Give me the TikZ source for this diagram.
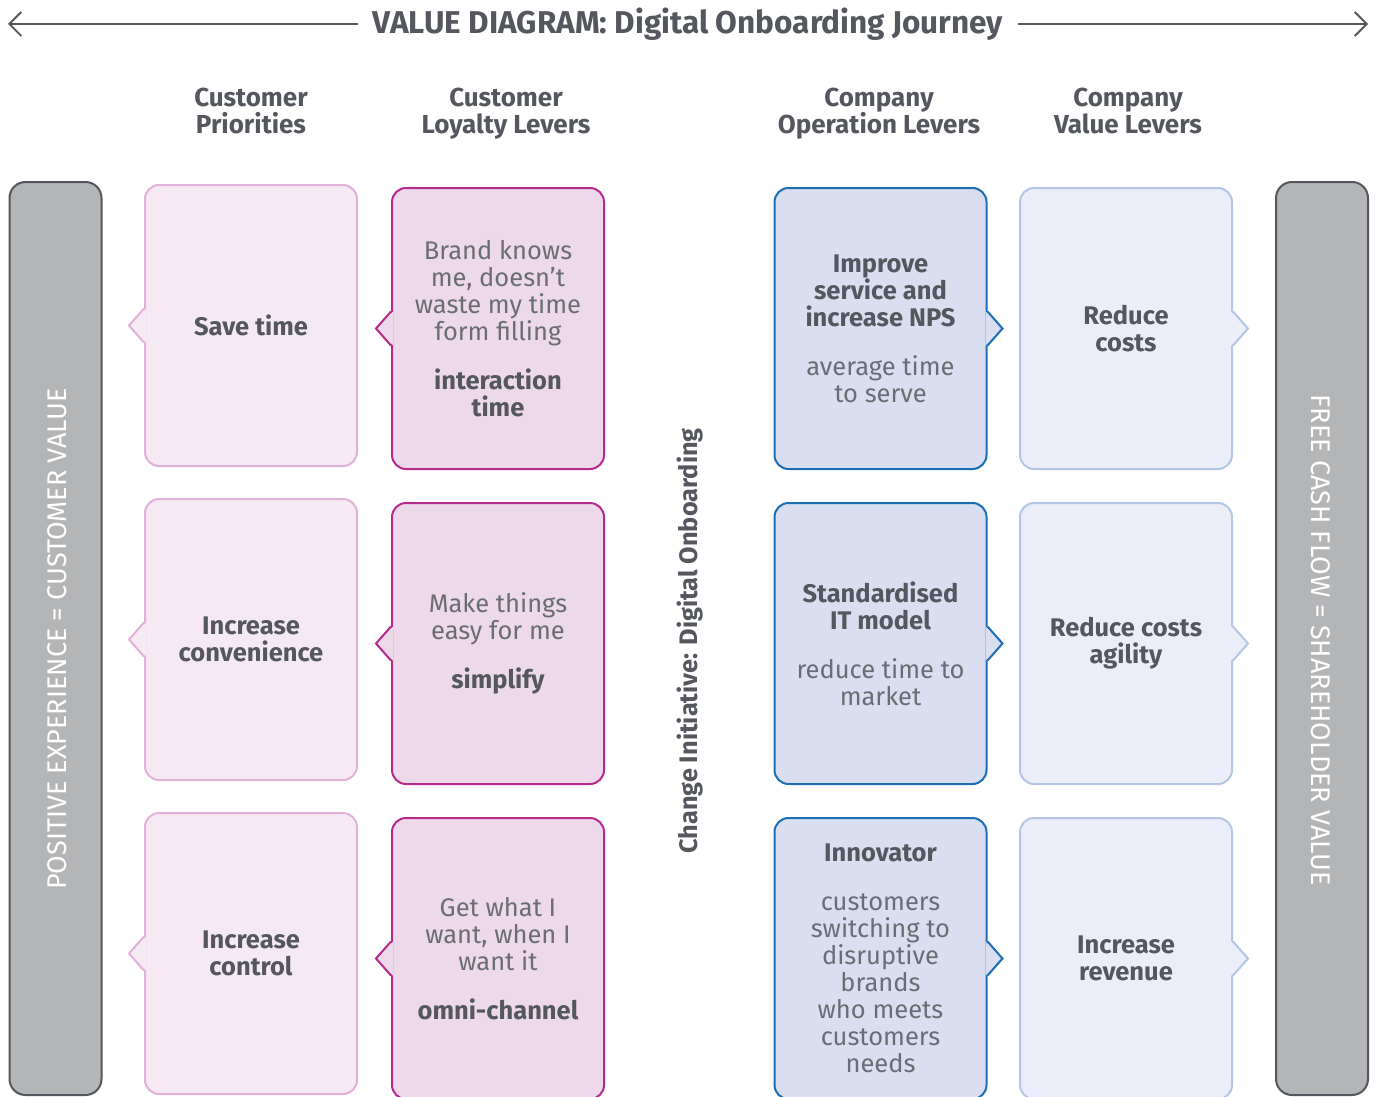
\documentclass[tikz,border=0pt]{standalone}
\usepackage{fontspec}
\setmainfont{Fira Sans}
\usetikzlibrary{arrows.meta}
\definecolor{txt}{HTML}{54575E}
\definecolor{txtl}{HTML}{6A6D73}
\definecolor{fA}{HTML}{F5EAF4}
\definecolor{sA}{HTML}{E2B1D9}
\definecolor{fB}{HTML}{EED9EB}
\definecolor{sB}{HTML}{B62A8B}
\definecolor{fC}{HTML}{D9DFF1}
\definecolor{sC}{HTML}{1C6DB4}
\definecolor{fD}{HTML}{EBEEF9}
\definecolor{sD}{HTML}{B4C6E6}
\definecolor{barF}{HTML}{B4B5B7}
\definecolor{barS}{HTML}{54575E}
\newcommand{\B}[1]{{\bfseries\color{txt}#1}}
\newcommand{\ptrL}[3]{%
  \fill[#2] ([xshift=2pt,yshift=17pt]#1.west) -- ([xshift=-15pt]#1.west) -- ([xshift=2pt,yshift=-17pt]#1.west) -- cycle;
  \draw[#3,line width=2pt,line join=miter] ([yshift=17pt]#1.west) -- ([xshift=-15pt]#1.west) -- ([yshift=-17pt]#1.west);}
\newcommand{\ptrR}[3]{%
  \fill[#2] ([xshift=-2pt,yshift=17pt]#1.east) -- ([xshift=15pt]#1.east) -- ([xshift=-2pt,yshift=-17pt]#1.east) -- cycle;
  \draw[#3,line width=2pt,line join=miter] ([yshift=17pt]#1.east) -- ([xshift=15pt]#1.east) -- ([yshift=-17pt]#1.east);}
\begin{document}
\begin{tikzpicture}[x=1pt,y=-1pt,
  bx/.style={rounded corners=14pt, line width=2pt, minimum width=212pt, minimum height=281pt,
    align=center, inner sep=0pt, text=txtl, font=\fontsize{25.5}{27}\selectfont},
  bA/.style={bx, draw=sA, fill=fA},
  bB/.style={bx, draw=sB, fill=fB},
  bC/.style={bx, draw=sC, fill=fC},
  bD/.style={bx, draw=sD, fill=fD},
  hd/.style={font=\fontsize{26}{27}\selectfont\bfseries, align=center, text=txt, anchor=north, inner sep=0pt},
  bar/.style={draw=barS, fill=barF, line width=2pt, rounded corners=16pt,
    minimum width=92pt, minimum height=913pt, inner sep=0pt},
  bartext/.style={text=white, font=\fontsize{27}{29}\selectfont},
  arr/.style={draw=txt, line width=1.8pt, -{Straight Barb[length=12pt,width=24pt,line width=1.8pt]}},
]
\useasboundingbox (0,0) rectangle (1381,1097);
\fill[white] (0,0) rectangle (1381,1097);

% title and arrows
\node[font=\fontsize{31.5}{34}\selectfont\bfseries, text=txt, inner xsep=15pt] (title) at (688,24) {VALUE DIAGRAM: Digital Onboarding Journey};
\coordinate (aL) at (8,24);
\coordinate (aR) at (1368,24);
\draw[arr] (title.west) -- (title.west -| aL);
\draw[arr] (title.east) -- (title.east -| aR);

% headers
\node[hd] (h1) at (251,88) {Customer\\Priorities};
\node[hd] (h2) at (506,88) {Customer\\Loyalty Levers};
\node[hd] (h3) at (879,88) {Company\\Operation Levers};
\node[hd] (h4) at (1128,88) {Company\\Value Levers};

% side bars
\node[bar] (lbar) at (55.5,638.5) {};
\node[bar] (rbar) at (1322,638.5) {};
\node[bartext, rotate=90] (ltext) at (57,639) {POSITIVE EXPERIENCE = CUSTOMER VALUE};
\node[bartext, rotate=-90] (rtext) at (1321,640) {FREE CASH FLOW = SHAREHOLDER VALUE};

% middle label
\node[rotate=90, text=txt, font=\fontsize{25.3}{27}\selectfont\bfseries] (ci) at (690,641) {Change Initiative: Digital Onboarding};

% column 1
\node[bA] (a1) at (251,325.5) {\B{Save time}};
\node[bA] (a2) at (251,639.5) {\B{Increase}\\\B{convenience}};
\node[bA] (a3) at (251,953.5) {\B{Increase}\\\B{control}};
\ptrL{a1}{fA}{sA}\ptrL{a2}{fA}{sA}\ptrL{a3}{fA}{sA}

% column 2
\node[bB] (b1) at (498,328.5) {Brand knows\\me, doesn’t\\waste my time\\form filling\\[22pt]\B{interaction}\\\B{time}};
\node[bB] (b2) at (498,643.5) {Make things\\easy for me\\[22pt]\B{simplify}};
\node[bB] (b3) at (498,958.5) {Get what I\\want, when I\\want it\\[22pt]\B{omni-channel}};
\ptrL{b1}{fB}{sB}\ptrL{b2}{fB}{sB}\ptrL{b3}{fB}{sB}

% column 3
\node[bC] (c1) at (880.5,328.5) {\B{Improve}\\\B{service and}\\\B{increase NPS}\\[22pt]average time\\to serve};
\node[bC] (c2) at (880.5,643.5) {\B{Standardised}\\\B{IT model}\\[22pt]reduce time to\\market};
\node[bC] (c3) at (880.5,958.5) {\B{Innovator}\\[22pt]customers\\switching to\\disruptive\\brands\\who meets\\customers\\needs};
\ptrR{c1}{fC}{sC}\ptrR{c2}{fC}{sC}\ptrR{c3}{fC}{sC}

% column 4
\node[bD] (d1) at (1126,328.5) {\B{Reduce}\\\B{costs}};
\node[bD] (d2) at (1126,643.5) {\B{Reduce costs}\\\B{agility}};
\node[bD] (d3) at (1126,958.5) {\B{Increase}\\\B{revenue}};
\ptrR{d1}{fD}{sD}\ptrR{d2}{fD}{sD}\ptrR{d3}{fD}{sD}
\end{tikzpicture}
\end{document}
